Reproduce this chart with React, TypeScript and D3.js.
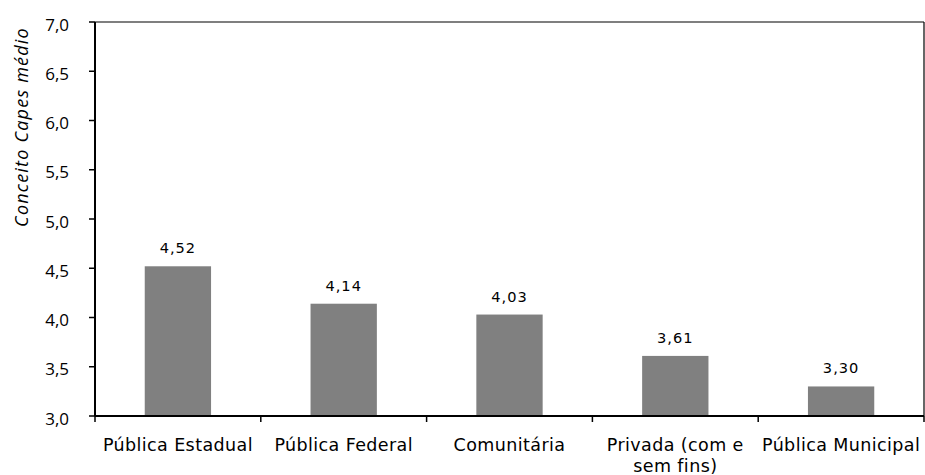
import React from "react";
import * as d3 from "d3";

const categories = ["Pública Estadual", "Pública Federal", "Comunitária", "Privada (com e|sem fins)", "Pública Municipal"];
const values = [4.52, 4.14, 4.03, 3.61, 3.3];
const yTicks = [3.0, 3.5, 4.0, 4.5, 5.0, 5.5, 6.0, 6.5, 7.0];

const W = 925, H = 475;
const M = { left: 95, right: 924, top: 22, bottom: 416 };

export default function App() {
  const x = d3.scaleBand<number>().domain(d3.range(categories.length)).range([M.left, M.right]).paddingInner(0).paddingOuter(0);
  const y = d3.scaleLinear().domain([3, 7]).range([M.bottom, M.top]);
  const bw = x.bandwidth() * 0.4;
  const fmt = (v: number, d: number) => v.toFixed(d).replace(".", ",");
  const font = "'DejaVu Sans', sans-serif";
  return (
    <svg width={W} height={H} style={{ position: "absolute", left: 0, top: 0 }}>
      <rect width={W} height={H} fill="#fff" />
      {categories.map((c, i) => {
        const cx = x(i)! + x.bandwidth() / 2;
        return (
          <g key={i}>
            <rect x={cx - bw / 2} y={y(values[i])} width={bw} height={y(3) - y(values[i])} fill="#808080" />
            <text x={cx} y={y(values[i]) - 13} textAnchor="middle" fontFamily={font} fontSize={14.6} letterSpacing={1} fill="#000">{fmt(values[i], 2)}</text>
            {c.split("|").map((line, j) => (
              <text key={j} x={cx} y={M.bottom + 35 + j * 20.5} textAnchor="middle" fontFamily={font} fontSize={17.5} letterSpacing={0.4} fill="#000">{line}</text>
            ))}
          </g>
        );
      })}
      {d3.range(categories.length + 1).map((i) => {
        const xx = i < categories.length ? x(i)! : M.right;
        return <line key={i} x1={xx} x2={xx} y1={M.bottom} y2={M.bottom + 6} stroke="#000" strokeWidth={1.5} />;
      })}
      {yTicks.map((t) => (
        <g key={t}>
          <line x1={M.left - 6} x2={M.left} y1={y(t)} y2={y(t)} stroke="#000" strokeWidth={1.5} />
          <text x={69} y={y(t) + 8.5} textAnchor="end" fontFamily="'Open Sans', sans-serif" fontSize={17} fill="#000">{fmt(t, 1)}</text>
        </g>
      ))}
      <line x1={M.left} x2={M.right} y1={M.top} y2={M.top} stroke="#000" strokeWidth={1.2} />
      <line x1={M.right} x2={M.right} y1={M.top} y2={M.bottom} stroke="#000" strokeWidth={1.2} />
      <line x1={M.left} x2={M.left} y1={M.top} y2={M.bottom} stroke="#000" strokeWidth={2} />
      <line x1={M.left} x2={M.right} y1={M.bottom} y2={M.bottom} stroke="#000" strokeWidth={2} />
      <text transform={`translate(28, 127) rotate(-90)`} textAnchor="middle" fontFamily="'Open Sans', sans-serif" fontStyle="italic" fontSize={18} letterSpacing={1.2} fill="#000">Conceito Capes médio</text>
    </svg>
  );
}
